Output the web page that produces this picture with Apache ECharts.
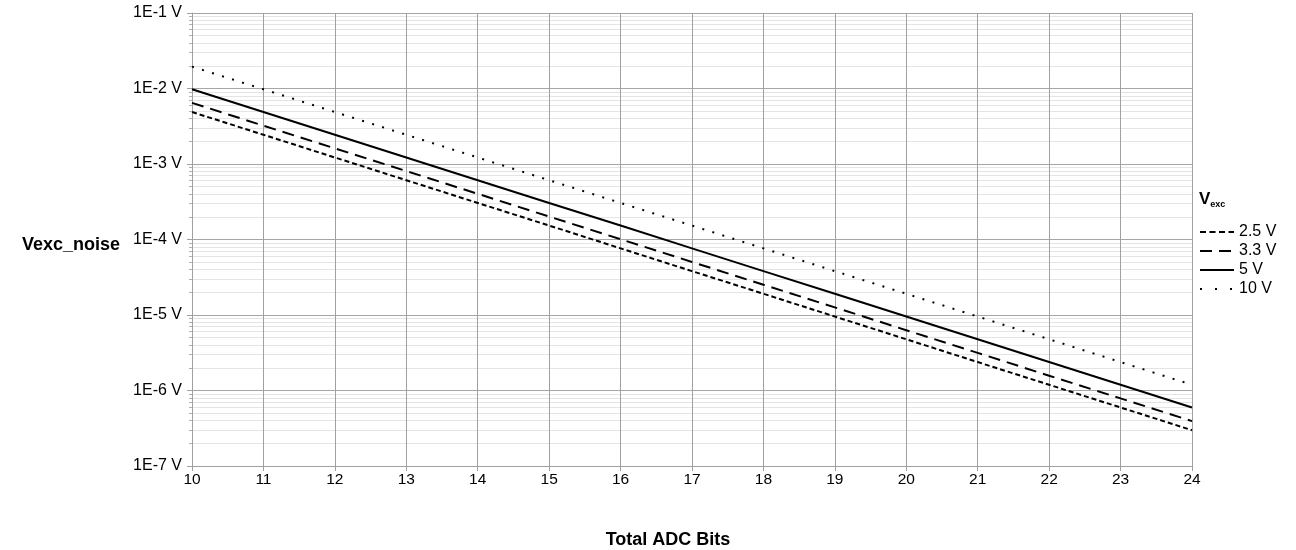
<!DOCTYPE html>
<html>
<head>
<meta charset="utf-8">
<script src="https://cdn.jsdelivr.net/npm/echarts@6/dist/echarts.min.js"></script>
<style>html,body{margin:0;padding:0;background:#fff}#c{width:1296px;height:550px}</style>
</head>
<body>
<div id="c"></div>
<script>
const bits = [10,11,12,13,14,15,16,17,18,19,20,21,22,23,24];
const v2_5 = [4.88e-3,2.44e-3,1.22e-3,6.1e-4,3.05e-4,1.53e-4,7.63e-5,3.81e-5,1.91e-5,9.54e-6,4.77e-6,2.38e-6,1.19e-6,5.96e-7,2.98e-7];
const v3_3 = [6.45e-3,3.22e-3,1.61e-3,8.06e-4,4.03e-4,2.01e-4,1.01e-4,5.04e-5,2.52e-5,1.26e-5,6.29e-6,3.15e-6,1.57e-6,7.87e-7,3.93e-7];
const v5 = [9.77e-3,4.88e-3,2.44e-3,1.22e-3,6.1e-4,3.05e-4,1.53e-4,7.63e-5,3.81e-5,1.91e-5,9.54e-6,4.77e-6,2.38e-6,1.19e-6,5.96e-7];
const v10 = [1.95e-2,9.77e-3,4.88e-3,2.44e-3,1.22e-3,6.1e-4,3.05e-4,1.53e-4,7.63e-5,3.81e-5,1.91e-5,9.54e-6,4.77e-6,2.38e-6,1.19e-6];
const seriesNames = ['2.5 V','3.3 V','5 V','10 V'];
const majorTicks = [1e-7,1e-6,1e-5,1e-4,1e-3,1e-2,1e-1];
const majorLabels = ['1E-7 V','1E-6 V','1E-5 V','1E-4 V','1E-3 V','1E-2 V','1E-1 V'];

const minorTicks = [];
for (let d = 0; d < majorTicks.length - 1; d++) {
  for (let m = 2; m <= 9; m++) minorTicks.push(parseFloat((m * majorTicks[d]).toPrecision(3)));
}

const pair = arr => bits.map((b, i) => [b, arr[i]]);
const font = 'Liberation Sans, Arial, sans-serif';
const dashes = [[5, 3], [12, 7], 'solid', [2, 8.5]];
const legendDashes = [[6, 3.5], [12, 7], 'solid', [2, 13]];

const chart = echarts.init(document.getElementById('c'), null, {renderer: 'canvas'});
chart.setOption({
  animation: false,
  backgroundColor: '#fff',
  grid: {left: 192, right: 104, top: 13, bottom: 84, containLabel: false},
  title: {
    left: 1199, top: 190, padding: 0,
    text: '{a|V}{b|exc}',
    textStyle: {
      rich: {
        a: {fontFamily: font, fontWeight: 'bold', fontSize: 17, color: '#000'},
        b: {fontFamily: font, fontWeight: 'bold', fontSize: 9, color: '#000', padding: [10, 0, 0, 0]}
      }
    }
  },
  legend: {
    orient: 'vertical', left: 1199, top: 224, padding: 0,
    itemWidth: 34, itemHeight: 16, itemGap: 3, itemTextGap: 13,
    itemStyle: {opacity: 0},
    textStyle: {fontFamily: font, fontSize: 16, color: '#000'},
    data: seriesNames.map((n, i) => ({name: n, itemStyle: {opacity: 0}, lineStyle: {type: legendDashes[i], width: 2, color: '#000'}}))
  },
  xAxis: {
    type: 'value', min: 10, max: 24, interval: 1,
    z: 2,
    axisLine: {show: true, lineStyle: {color: '#a0a0a0', width: 1}},
    axisTick: {show: true, length: 5, lineStyle: {color: '#a0a0a0'}},
    axisLabel: {fontFamily: font, fontSize: 15.5, color: '#000', margin: 6},
    splitLine: {show: true, lineStyle: {color: '#a0a0a0', width: 1}}
  },
  yAxis: [{
    type: 'log', logBase: 10, min: 1e-7, max: 1e-1,
    z: 2,
    axisLine: {show: true, onZero: false, lineStyle: {color: '#a0a0a0', width: 1}},
    axisTick: {show: true, length: 5, lineStyle: {color: '#a0a0a0'}},
    axisLabel: {
      fontFamily: font, fontSize: 16, color: '#000', margin: 10,
      formatter: v => {
        const i = majorTicks.findIndex(t => Math.abs(Math.log10(t) - Math.log10(v)) < 1e-6);
        return i >= 0 ? majorLabels[i] : '';
      }
    },
    splitLine: {show: true, lineStyle: {color: '#a6a6a6', width: 1}}
  }, {
    type: 'log', logBase: 10, min: 1e-7, max: 1e-1, position: 'left',
    z: 0,
    axisLine: {show: false},
    axisTick: {show: true, length: 3, customValues: minorTicks, lineStyle: {color: '#b0b0b0'}},
    axisLabel: {show: false},
    splitLine: {show: true, lineStyle: {color: '#e4e4e4', width: 1}}
  }],
  graphic: [
    {type: 'text', x: 120, y: 245, style: {text: 'Vexc_noise', font: 'bold 18px ' + font, fill: '#000', textAlign: 'right', textVerticalAlign: 'middle'}},
    {type: 'text', x: 668, y: 540, style: {text: 'Total ADC Bits', font: 'bold 18px ' + font, fill: '#000', textAlign: 'center', textVerticalAlign: 'middle'}}
  ],
  series: seriesNames.map((n, i) => ({
    name: n, type: 'line', data: pair([v2_5, v3_3, v5, v10][i]), symbol: 'none', z: 3,
    lineStyle: {color: '#000', width: 2, type: dashes[i]}, itemStyle: {color: '#000'}
  }))
});
</script>
</body>
</html>
